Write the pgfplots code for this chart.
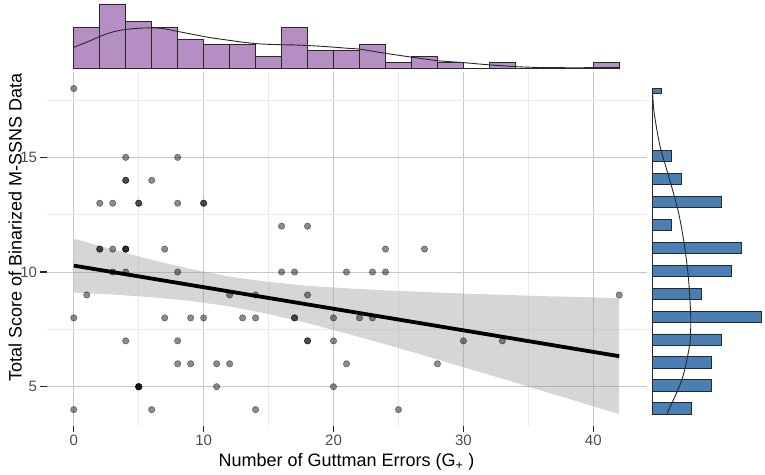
\documentclass[border=0pt]{standalone}
\usepackage{fontspec}
\setmainfont{Liberation Sans}
\usepackage{pgfplots}
\pgfplotsset{compat=1.18}
\definecolor{histpurple}{RGB}{181,143,195}
\definecolor{histblue}{RGB}{74,127,182}
\definecolor{outl}{RGB}{40,40,40}
\begin{document}
\begin{tikzpicture}
\path[use as bounding box] (0pt,0pt) rectangle (765pt,474pt);
% ---------------- main scatter panel ----------------
\begin{axis}[
  at={(46.5pt,48.3pt)}, anchor=south west,
  scale only axis, width=600pt, height=353.2pt,
  xmin=-2.1, xmax=44.1, ymin=3.3, ymax=18.7,
  axis x line*=bottom, axis y line*=left,
  axis line style={draw=none},
  xtick={0,10,20,30,40}, ytick={5,10,15},
  minor xtick={5,15,25,35}, minor ytick={7.5,12.5,17.5},
  grid=both,
  major grid style={draw=black!22, line width=0.9pt},
  minor grid style={draw=black!8, line width=0.7pt},
  tick align=outside,
  major tick length=6pt, minor tick length=0pt,
  major tick style={draw=black!85, line width=1.1pt},
  /pgf/number format/assume math mode=true,
  ticklabel style={font=\fontsize{15}{18}\selectfont, text=black!70},
  xticklabel style={yshift=0pt},
  xlabel={Number of Guttman Errors (G\textsubscript{+} )},
  ylabel={Total Score of Binarized M-SSNS Data},
  label style={font=\fontsize{18}{21}\selectfont},
  xlabel style={at={(axis description cs:0.5,0)}, anchor=base, yshift=-41pt},
  ylabel style={at={(axis description cs:-0.0413,0.561)}, anchor=base, rotate=0},
]
% points
\addplot[only marks, mark=*, mark size=3.2pt,
  mark options={fill=black, draw=black, fill opacity=0.45, draw opacity=0.45, line width=0.6pt}]
  table {
x y
0 18
0 8
0 4
1 9
2 13
2 11
2 11
3 13
3 11
3 10
4 15
4 14
4 14
4 11
4 11
4 11
4 10
4 7
5 13
5 13
5 5
5 5
5 5
5 5
6 14
6 4
7 11
7 8
8 15
8 13
8 10
8 7
8 6
9 8
9 6
10 13
10 13
10 8
11 6
11 5
12 9
12 6
13 8
14 9
14 8
14 4
16 12
16 10
17 10
17 8
17 8
18 12
18 9
18 7
18 7
20 8
20 7
20 5
21 10
21 6
22 8
23 10
23 8
24 11
24 10
25 4
27 11
28 6
30 7
33 7
42 9
};
% confidence band
\addplot[draw=none, fill=black!40, fill opacity=0.4] coordinates {
(0,11.45) (3,10.98) (6,10.53) (9,10.13) (12,9.80) (15,9.57) (18,9.40) (21,9.29)
(24,9.20) (27,9.13) (30,9.06) (33,9.01) (36,8.95) (39,8.91) (42,8.86)
(42,3.80) (39,4.32) (36,4.83) (33,5.35) (30,5.85) (27,6.36) (24,6.85) (21,7.32)
(18,7.77) (15,8.17) (12,8.50) (9,8.74) (6,8.90) (3,9.02) (0,9.11)
} -- cycle;
% regression line
\addplot[black, line width=3.8pt] coordinates {(0,10.28) (42,6.33)};
\end{axis}
% ---------------- top marginal histogram ----------------
\begin{axis}[
  at={(46.5pt,405.7pt)}, anchor=south west,
  scale only axis, width=600pt, height=68.3pt,
  xmin=-2.1, xmax=44.1, ymin=0, ymax=11.68,
  hide axis, clip=false,
]
\addplot[ybar, bar width=2, bar shift=0, fill=histpurple, draw=outl, line width=0.9pt] coordinates {
(1,7) (3,11) (5,8) (7,7) (9,5) (11,4) (13,4) (15,2) (17,7) (19,3) (21,3)
(23,4) (25,1) (27,2) (29,1) (31,0) (33,1) (35,0) (37,0) (39,0) (41,1)
};
\addplot[smooth, draw=outl, line width=0.9pt] coordinates {
(0,3.59) (1.1,4.56) (2.1,5.53) (3.1,6.27) (4.1,6.67) (5.4,6.89) (6.7,6.84) (8,6.3)
(9.3,5.75) (10.5,5.24) (11.8,4.84) (13.1,4.44) (14.4,4.16) (15.7,4.05) (17,3.99)
(18.2,3.87) (19.5,3.70) (21.1,3.42) (22.1,3.25) (24,2.56) (26.1,1.88) (28,1.31)
(30,0.97) (32.1,0.57) (34.1,0.28) (36,0.13) (38.5,0.1) (42,0.12)
};
\end{axis}
% ---------------- right marginal histogram ----------------
\begin{axis}[
  at={(652pt,48.3pt)}, anchor=south west,
  scale only axis, width=113pt, height=353.2pt,
  xmin=0, xmax=11.41, ymin=3.3, ymax=18.7,
  hide axis, clip=false,
]
\addplot[draw=outl, line width=0.9pt] coordinates {(0,3.8) (0,18.0)};
\addplot[xbar, bar width=0.5, bar shift=0, fill=histblue, draw=outl, line width=0.9pt] coordinates {
(4,4.05) (6,5.05) (6,6.05) (7,7.05) (11,8.05) (5,9.05) (8,10.05) (9,11.05)
(2,12.05) (7,13.05) (3,14.05) (2,15.05)
};
\addplot[xbar, bar width=0.22, bar shift=0, fill=histblue, draw=outl, line width=0.9pt] coordinates {
(1,17.89)
};
\addplot[smooth, draw=outl, line width=0.9pt] coordinates {
(0.05,17.95) (0.15,17.2) (0.33,16.62) (0.83,15.45) (1.8,14.0) (2.7,12.55) (3.3,11.09)
(3.7,9.64) (3.9,8.19) (3.9,7.46) (3.77,6.73) (3.0,5.28) (1.5,3.82)
};
\end{axis}
\end{tikzpicture}
\end{document}
